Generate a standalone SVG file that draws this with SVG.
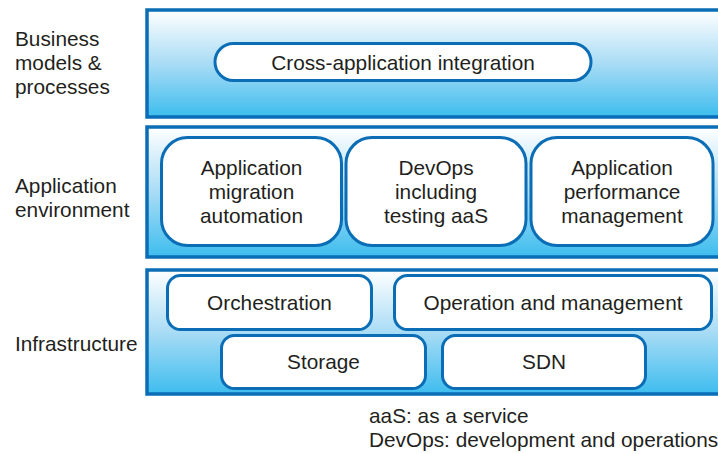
<svg xmlns="http://www.w3.org/2000/svg" width="718" height="454" viewBox="0 0 718 454">
<defs>
<linearGradient id="g" x1="0" y1="0" x2="0" y2="1">
<stop offset="0" stop-color="#ffffff"/>
<stop offset="0.5" stop-color="#a9dcf5"/>
<stop offset="1" stop-color="#3dbdee"/>
</linearGradient>
</defs>
<style>
.layer{fill:url(#g);stroke:#0a6db5;stroke-width:3.5}
.box{fill:#ffffff;stroke:#0a6db5;stroke-width:3}
text{font-family:"Liberation Sans",Arial,sans-serif;font-size:20.8px;fill:#231f20}
.c{text-anchor:middle}
</style>
<rect width="718" height="454" fill="#ffffff"/>
<g id="labels">
<text x="15" y="46">Business</text>
<text x="15" y="70">models &amp;</text>
<text x="15" y="94">processes</text>
<text x="15" y="193">Application</text>
<text x="15" y="217">environment</text>
<text x="15" y="351">Infrastructure</text>
</g>
<g id="layer-business"><rect class="layer" x="147" y="10" width="590" height="107"/></g>
<g id="layer-application"><rect class="layer" x="147" y="127" width="590" height="130"/></g>
<g id="layer-infrastructure"><rect class="layer" x="147" y="270" width="590" height="124"/></g>
<g id="node-cross"><rect class="box" x="215" y="43.5" width="376" height="37" rx="18.5"/><text class="c" x="403" y="69.5">Cross-application integration</text></g>
<g id="node-migration"><rect class="box" x="161.5" y="137.5" width="180" height="108" rx="26"/><text class="c" x="251.5" y="175">Application</text><text class="c" x="251.5" y="199">migration</text><text class="c" x="251.5" y="223">automation</text></g>
<g id="node-devops"><rect class="box" x="346" y="137.5" width="180" height="108" rx="26"/><text class="c" x="436" y="175">DevOps</text><text class="c" x="436" y="199">including</text><text class="c" x="436" y="223">testing aaS</text></g>
<g id="node-performance"><rect class="box" x="531" y="137.5" width="182" height="108" rx="26"/><text class="c" x="622" y="175">Application</text><text class="c" x="622" y="199">performance</text><text class="c" x="622" y="223">management</text></g>
<g id="node-orchestration"><rect class="box" x="167.5" y="275.5" width="204" height="54" rx="13"/><text class="c" x="269.5" y="309.5">Orchestration</text></g>
<g id="node-operation"><rect class="box" x="394.5" y="275.5" width="317" height="54" rx="13"/><text class="c" x="553" y="309.5">Operation and management</text></g>
<g id="node-storage"><rect class="box" x="221.5" y="335.5" width="204" height="53" rx="13"/><text class="c" x="323.5" y="369">Storage</text></g>
<g id="node-sdn"><rect class="box" x="442.5" y="335.5" width="203" height="53" rx="13"/><text class="c" x="544" y="369">SDN</text></g>
<g id="connectors"/>
<g id="footnote">
<text x="369" y="423">aaS: as a service</text>
<text x="369" y="447">DevOps: development and operations</text>
</g>
</svg>
